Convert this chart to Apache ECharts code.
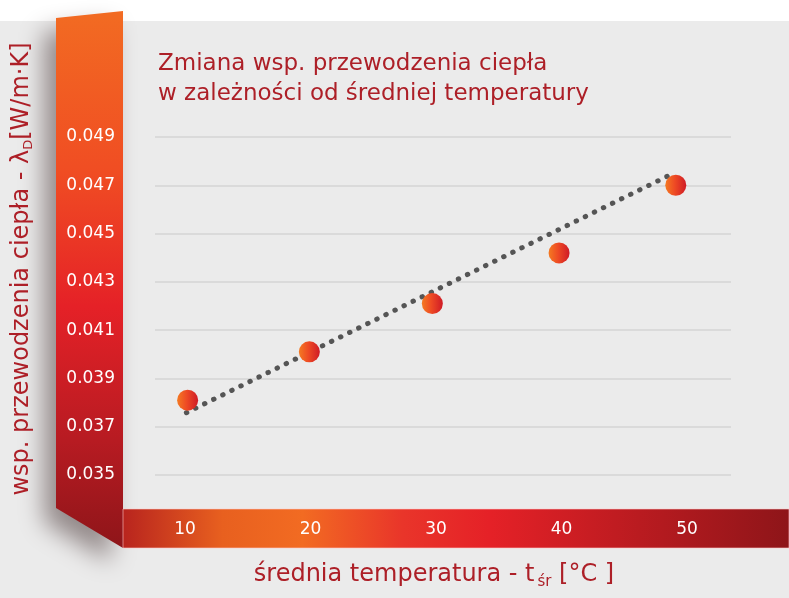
<!DOCTYPE html>
<html><head><meta charset="utf-8">
<script src="https://cdn.jsdelivr.net/npm/echarts@6/dist/echarts.min.js"></script>
<style>html,body{margin:0;padding:0;background:#fff}#c{width:789px;height:598px}</style>
</head><body><div id="c"></div>
<script>
// Data
const temps = [10.2, 19.9, 29.7, 39.8, 49.1];
const lambda = [0.0381, 0.0401, 0.0421, 0.0442, 0.0470];
const trendX = [10.1, 49.0];
const trendY = [0.03758, 0.04752];
const xTicks = [10, 20, 30, 40, 50];
const yTicks = [0.035, 0.037, 0.039, 0.041, 0.043, 0.045, 0.047, 0.049];
const titleLines = ['Zmiana wsp. przewodzenia ciepła', 'w zależności od średniej temperatury'];

const FONT = 'DejaVu Sans';
const RED = '#ad1f27';
const chart = echarts.init(document.getElementById('c'), null, {renderer: 'canvas'});

const grad = (x, y, x2, y2, stops) => new echarts.graphic.LinearGradient(x, y, x2, y2, stops.map(s => ({offset: s[0], color: s[1]})));

chart.setOption({
  backgroundColor: '#ffffff',
  animation: false,
  title: {
    text: titleLines.join('\n'),
    left: 153, top: 44,
    textStyle: {color: RED, fontFamily: FONT, fontSize: 23, fontWeight: 'normal', lineHeight: 30}
  },
  grid: {left: 155, right: 58, top: 137, bottom: 123},
  xAxis: {
    type: 'value', min: 7.6, max: 53.5,
    axisLine: {show: false}, axisTick: {show: false}, splitLine: {show: false},
    axisLabel: {customValues: xTicks, color: '#fff', fontFamily: FONT, fontSize: 17, margin: 46}
  },
  yAxis: {
    type: 'value', min: 0.035, max: 0.049, interval: 0.002,
    axisLine: {show: false}, axisTick: {show: false},
    splitLine: {lineStyle: {color: '#dadada', width: 2}},
    axisLabel: {color: '#fff', fontFamily: FONT, fontSize: 17, margin: 40,
      formatter: v => yTicks.find(t => Math.abs(t - v) < 1e-9) !== undefined ? v.toFixed(3) : ''}
  },
  graphic: [
    {type: 'rect', z: -10, silent: true, shape: {x: 0, y: 21, width: 789, height: 577}, style: {fill: '#ebebeb'}},
    {type: 'polygon', z: -5, silent: true,
      shape: {points: [[56, 18], [123, 11], [123, 548], [56, 508]]},
      style: {
        fill: grad(0, 0, 0, 1, [[0, '#f26b22'], [0.3, '#f04d23'], [0.55, '#e52127'], [0.8, '#b71b22'], [1, '#8e1519']]),
        shadowBlur: 24, shadowColor: 'rgba(60,40,40,0.5)', shadowOffsetX: -12, shadowOffsetY: 14
      }},
    {type: 'rect', z: -4, silent: true,
      shape: {x: 123, y: 509, width: 666, height: 39},
      style: {
        fill: grad(0, 0, 1, 0, [[0, '#b8241e'], [0.15, '#e8601f'], [0.27, '#f26b22'], [0.42, '#e9352a'], [0.55, '#e52127'], [1, '#8e1519']]),
        stroke: 'rgba(255,200,200,0.6)', lineWidth: 1
      }},
    {type: 'text', z: 5, silent: true, x: 22, y: 269, rotation: Math.PI / 2,
      style: {
        text: '{a|wsp. przewodzenia ciepła - λ}{s|D}{a|[W/m·K]}',
        align: 'center', verticalAlign: 'middle',
        rich: {
          a: {fill: RED, fontFamily: FONT, fontSize: 24},
          s: {fill: RED, fontFamily: FONT, fontSize: 13, padding: [14, 0, 0, 0]}
        }
      }},
    {type: 'text', z: 5, silent: true, x: 434, y: 575,
      style: {
        text: '{a|średnia temperatura - t}{s|śr}{a| [°C ]}',
        align: 'center', verticalAlign: 'middle',
        rich: {
          a: {fill: RED, fontFamily: FONT, fontSize: 24},
          s: {fill: RED, fontFamily: FONT, fontSize: 15, padding: [14, 0, 0, 3]}
        }
      }}
  ],
  series: [
    {
      type: 'line', z: 2,
      data: trendX.map((x, i) => [x, trendY[i]]),
      symbol: 'none',
      lineStyle: {color: '#555555', width: 5, type: [0.5, 9.6], cap: 'round'}
    },
    {
      type: 'scatter', z: 3,
      data: temps.map((x, i) => [x, lambda[i]]),
      symbolSize: 21,
      itemStyle: {color: grad(0, 0, 1, 0, [[0, '#f47a22'], [0.45, '#ee4a24'], [1, '#cf1b26']]), opacity: 1}
    }
  ]
});
</script></body></html>
